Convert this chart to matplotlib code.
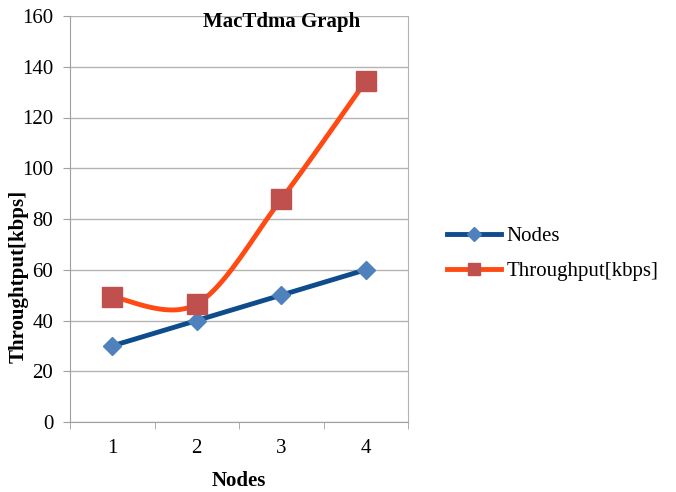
import matplotlib.pyplot as plt
import numpy as np

categories = ['1', '2', '3', '4']
nodes = [30, 40, 50, 60]
throughput = [49.3, 46.5, 87.8, 134.3]


def smooth_curve(x, y, n=40):
    # Excel-like smoothed line: Catmull-Rom through the points as cubic Bezier
    x = np.asarray(x, float)
    y = np.asarray(y, float)
    px = np.concatenate([[x[0]], x, [x[-1]]])
    py = np.concatenate([[y[0]], y, [y[-1]]])
    xs, ys = [], []
    t = np.linspace(0, 1, n)
    for i in range(1, len(px) - 2):
        p0 = np.array([px[i], py[i]])
        p3 = np.array([px[i + 1], py[i + 1]])
        p1 = p0 + (np.array([px[i + 1], py[i + 1]]) - np.array([px[i - 1], py[i - 1]])) / 6
        p2 = p3 - (np.array([px[i + 2], py[i + 2]]) - np.array([px[i], py[i]])) / 6
        b = ((1 - t) ** 3)[:, None] * p0 + (3 * (1 - t) ** 2 * t)[:, None] * p1 \
            + (3 * (1 - t) * t ** 2)[:, None] * p2 + (t ** 3)[:, None] * p3
        xs.extend(b[:, 0])
        ys.extend(b[:, 1])
    return np.array(xs), np.array(ys)


plt.rcParams['font.family'] = ['Liberation Serif', 'DejaVu Serif']

fig = plt.figure(figsize=(6.76, 4.92), dpi=100)
ax = fig.add_axes([70 / 676, 70 / 492, 338 / 676, 406 / 492])

xpos = np.arange(1, len(categories) + 1)
blue_line, blue_mark = '#0E4C8C', '#4F81BD'
red_line, red_mark = '#FF4A14', '#C0504D'

ax.plot(xpos, nodes, color=blue_line, linewidth=3.5, zorder=3)
ax.plot(xpos, nodes, linestyle='none', marker='D', markersize=9,
        color=blue_mark, zorder=4)
sx, sy = smooth_curve(xpos, throughput)
ax.plot(sx, sy, color=red_line, linewidth=3.5, zorder=3)
ax.plot(xpos, throughput, linestyle='none', marker='s', markersize=14,
        color=red_mark, zorder=4)

# legend proxies
ax.plot([], [], color=blue_line, linewidth=3.5, marker='D', markersize=7,
        markerfacecolor=blue_mark, markeredgecolor=blue_mark, label='Nodes')
ax.plot([], [], color=red_line, linewidth=3.5, marker='s', markersize=9,
        markerfacecolor=red_mark, markeredgecolor=red_mark, label='Throughput[kbps]')

ax.set_xlim(0.5, 4.5)
ax.set_ylim(0, 160)
ax.set_yticks(np.arange(0, 161, 20))
ax.set_xticks(xpos)
ax.set_xticklabels(categories)
ax.set_xticks(np.arange(0.5, 4.6, 1), minor=True)
ax.tick_params(axis='x', which='major', length=0, pad=12, labelsize=15)
ax.tick_params(axis='x', which='minor', length=5, color='#A0A0A0', direction='out')
ax.tick_params(axis='y', length=5, color='#A0A0A0', labelsize=15, pad=7)

ax.grid(axis='y', color='#B3B3B3', linewidth=1)
ax.set_axisbelow(True)
ax.spines['top'].set_visible(False)
ax.spines['left'].set_color('#A0A0A0')
ax.spines['bottom'].set_color('#A0A0A0')
ax.spines['right'].set_color('#B3B3B3')

ax.set_xlabel('Nodes', fontsize=15, fontweight='bold', va='top')
ax.xaxis.set_label_coords(0.5, (422 - 471) / 406)
fig.text(19 / 676, 1 - 276 / 492, 'Throughtput[kbps]', rotation=90,
         ha='center', va='center', fontsize=15, fontweight='bold')
ax.text((282 - 70) / 338, (422 - 12) / 406, 'MacTdma Graph', transform=ax.transAxes,
        ha='center', va='top', fontsize=15, fontweight='bold')

fig.legend(loc='center left', bbox_to_anchor=(447 / 676, 1 - 254 / 492),
           frameon=False, fontsize=15, handlelength=2.6, labelspacing=0.75,
           handletextpad=0.25, borderpad=0, borderaxespad=0)

fig.savefig('out.png', dpi=100)
